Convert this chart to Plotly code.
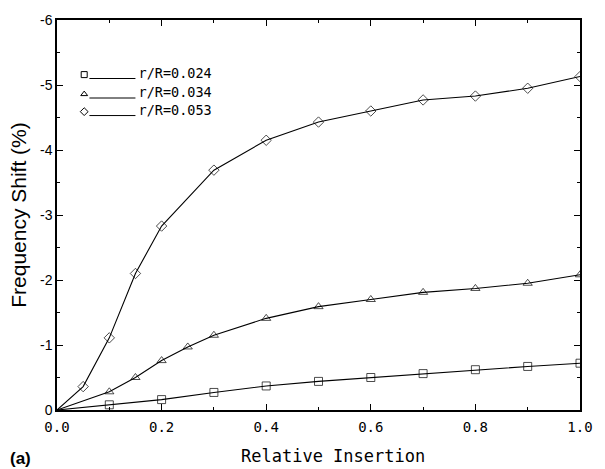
import plotly.graph_objects as go

# Relative insertion vs. frequency shift for three probe radii
x_sq = [0, 0.1, 0.2, 0.3, 0.4, 0.5, 0.6, 0.7, 0.8, 0.9, 1.0]
y_sq = [0, -0.08, -0.16, -0.27, -0.37, -0.44, -0.50, -0.56, -0.62, -0.67, -0.72]

x_tri = [0, 0.1, 0.15, 0.2, 0.25, 0.3, 0.4, 0.5, 0.6, 0.7, 0.8, 0.9, 1.0]
y_tri = [0, -0.28, -0.50, -0.76, -0.97, -1.15, -1.41, -1.59, -1.70, -1.81, -1.87, -1.95, -2.08]

x_dia = [0, 0.05, 0.1, 0.15, 0.2, 0.3, 0.4, 0.5, 0.6, 0.7, 0.8, 0.9, 1.0]
y_dia = [0, -0.36, -1.11, -2.10, -2.83, -3.69, -4.15, -4.43, -4.60, -4.77, -4.83, -4.95, -5.13]

series_names = ["r/R=0.024", "r/R=0.034", "r/R=0.053"]
series_symbols = ["square-open", "triangle-up-open", "diamond-open"]

x_tickvals = [0.0, 0.2, 0.4, 0.6, 0.8, 1.0]
x_ticktext = ["0.0", "0.2", "0.4", "0.6", "0.8", "1.0"]
y_tickvals = [0, -1, -2, -3, -4, -5, -6]
y_ticktext = ["0", "-1", "-2", "-3", "-4", "-5", "-6"]

MONO = "DejaVu Sans Mono"
SANS = "Liberation Sans"

fig = go.Figure()

for xs, ys, sym, name in zip([x_sq, x_tri, x_dia], [y_sq, y_tri, y_dia],
                             series_symbols, series_names):
    sizes = [0] + [8] * (len(xs) - 1)
    fig.add_trace(go.Scatter(
        x=xs, y=ys, mode="lines+markers", name=name,
        line=dict(color="black", width=1.1),
        marker=dict(symbol=sym, size=sizes, color="black",
                    line=dict(color="black", width=1)),
        showlegend=False,
    ))

# Key drawn on an overlay axis in fractional units
key_x_marker = 0.052
key_x_line = [0.062, 0.15]
key_x_text = 0.156
key_rows = [0.850, 0.800, 0.755]
for sym, name, ky in zip(series_symbols, series_names, key_rows):
    fig.add_trace(go.Scatter(
        x=[key_x_marker], y=[ky + 0.01], mode="markers", xaxis="x2", yaxis="y2",
        marker=dict(symbol=sym, size=6, color="black",
                    line=dict(color="black", width=1)),
        showlegend=False, hoverinfo="skip",
    ))
    fig.add_trace(go.Scatter(
        x=key_x_line, y=[ky, ky], mode="lines",
        xaxis="x2", yaxis="y2", line=dict(color="black", width=1),
        showlegend=False, hoverinfo="skip",
    ))
    fig.add_trace(go.Scatter(
        x=[key_x_text], y=[ky + 0.01], mode="text", text=[name],
        textposition="middle right", xaxis="x2", yaxis="y2",
        textfont=dict(family=MONO, size=13.5, color="black"),
        showlegend=False, hoverinfo="skip",
    ))

fig.update_layout(
    width=605, height=469,
    margin=dict(l=57, r=13, t=14, b=59),
    paper_bgcolor="white", plot_bgcolor="white",
    xaxis=dict(
        range=[0, 1], tickvals=x_tickvals, ticktext=x_ticktext,
        ticks="inside", ticklen=6, tickwidth=1, tickcolor="black",
        minor=dict(dtick=0.1, ticks="inside", ticklen=3, tickcolor="black"),
        showline=True, linecolor="black", linewidth=1.5, mirror="ticks",
        showgrid=False, zeroline=False, ticklabelstandoff=3,
        tickfont=dict(family=MONO, size=14, color="black"),
    ),
    yaxis=dict(
        range=[0, -6], tickvals=y_tickvals, ticktext=y_ticktext,
        ticks="inside", ticklen=6, tickwidth=1, tickcolor="black",
        minor=dict(dtick=0.5, ticks="inside", ticklen=3, tickcolor="black"),
        showline=True, linecolor="black", linewidth=1.5, mirror="ticks",
        showgrid=False, zeroline=False,
        tickfont=dict(family=SANS, size=14, color="black"),
        title=dict(text="Frequency Shift (%)", standoff=8,
                   font=dict(family=SANS, size=21, color="black")),
    ),
    xaxis2=dict(range=[0, 1], overlaying="x", visible=False, fixedrange=True),
    yaxis2=dict(range=[0, 1], overlaying="y", visible=False, fixedrange=True),
    annotations=[
        dict(text="Relative Insertion", xref="paper", yref="paper",
             x=0.527, y=-0.119, xanchor="center", yanchor="middle",
             showarrow=False,
             font=dict(family=MONO, size=17, color="black")),
        dict(text="<b>(a)</b>", xref="paper", yref="paper", x=-0.094,
             y=-0.124, xanchor="left", yanchor="middle", showarrow=False,
             font=dict(family=SANS, size=17, color="black")),
    ],
)

fig.write_html("out.html")
